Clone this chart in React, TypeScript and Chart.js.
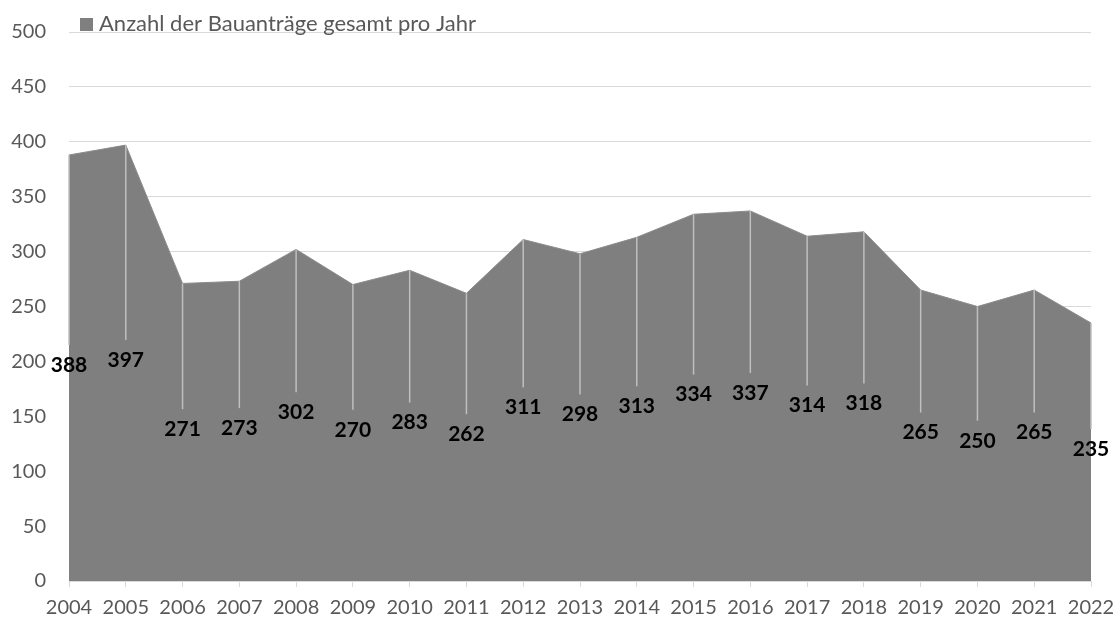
import React, { useEffect, useRef } from "react";
import { Chart, registerables } from "chart.js";

Chart.register(...registerables);

const years = ["2004","2005","2006","2007","2008","2009","2010","2011","2012","2013","2014","2015","2016","2017","2018","2019","2020","2021","2022"];
const applications = [388,397,271,273,302,270,283,262,311,298,313,334,337,314,318,265,250,265,235];
const seriesLabel = "Anzahl der Bauanträge gesamt pro Jahr";
const yMin = 0;
const yMax = 500;
const yStep = 50;

const FONT = "Lato, 'DejaVu Sans', sans-serif";

export default function App() {
  const ref = useRef<HTMLCanvasElement | null>(null);

  useEffect(() => {
    let chart: Chart | null = null;
    let cancelled = false;

    const labelsPlugin = {
      id: "areaLabels",
      afterDatasetsDraw(c: any) {
        const ctx = c.ctx;
        const meta = c.getDatasetMeta(0);
        const ys = c.scales.y;
        ctx.save();
        meta.data.forEach((pt: any, i: number) => {
          const v = applications[i];
          const lx = pt.x;
          const ly = ys.getPixelForValue(v / 2) - 3;
          const lineEnd = ly - 20;
          if (lineEnd > pt.y) {
            ctx.strokeStyle = "#bfbfbf";
            ctx.lineWidth = 1.5;
            ctx.beginPath();
            ctx.moveTo(lx, pt.y);
            ctx.lineTo(lx, lineEnd);
            ctx.stroke();
          }
          ctx.fillStyle = "#000000";
          ctx.font = `bold 21px ${FONT}`;
          ctx.textAlign = "center";
          ctx.textBaseline = "middle";
          ctx.fillText(String(v), lx, ly);
        });
        ctx.restore();
      },
      afterDraw(c: any) {
        const ctx = c.ctx;
        ctx.save();
        ctx.fillStyle = "#7f7f7f";
        ctx.fillRect(80, 18, 13, 13);
        ctx.fillStyle = "#595959";
        ctx.font = `22px ${FONT}`;
        ctx.textAlign = "left";
        ctx.textBaseline = "middle";
        ctx.fillText(seriesLabel, 99, 24);
        ctx.restore();
      },
    };

    const build = () => {
      if (cancelled || !ref.current) return;
      chart = new Chart(ref.current, {
        type: "line",
        data: {
          labels: years,
          datasets: [
            {
              label: seriesLabel,
              data: applications,
              fill: "origin",
              backgroundColor: "#7f7f7f",
              borderColor: "#8c8c8c",
              borderWidth: 1,
              pointRadius: 0,
              tension: 0,
            },
          ],
        },
        options: {
          animation: false,
          responsive: false,
          layout: { padding: { top: 32, right: 25, left: 0, bottom: 0 } },
          plugins: {
            legend: { display: false },
            tooltip: { enabled: false },
          },
          scales: {
            x: {
              type: "category",
              offset: false,
              afterFit(scale: any) {
                scale.height = 43;
                scale.paddingLeft = 0;
                scale.paddingRight = 0;
              },
              grid: {
                drawOnChartArea: false,
                drawTicks: true,
                tickLength: 6,
                color: "#d9d9d9",
              },
              border: { display: true, color: "#d9d9d9", width: 1 },
              ticks: {
                color: "#595959",
                font: { family: FONT, size: 20 },
                padding: 9,
                maxRotation: 0,
                autoSkip: false,
              },
            },
            y: {
              min: yMin,
              max: yMax,
              afterFit(scale: any) {
                scale.width = 69;
                scale.paddingTop = 0;
                scale.paddingBottom = 0;
              },
              grid: {
                color: "#d9d9d9",
                lineWidth: 1,
                drawTicks: false,
              },
              border: { display: false },
              ticks: {
                stepSize: yStep,
                color: "#595959",
                font: { family: FONT, size: 20 },
                padding: 23,
              },
            },
          },
        },
        plugins: [labelsPlugin],
      });
    };

    const fontsApi = (document as any).fonts;
    if (fontsApi && fontsApi.load) {
      Promise.all([
        fontsApi.load(`20px Lato`),
        fontsApi.load(`bold 21px Lato`),
      ])
        .catch(() => {})
        .then(build);
    } else {
      build();
    }

    return () => {
      cancelled = true;
      if (chart) chart.destroy();
    };
  }, []);

  return (
    <div style={{ position: "absolute", left: 0, top: 0, width: 1116, height: 624, background: "#ffffff" }}>
      <canvas ref={ref} width={1116} height={624} style={{ display: "block", width: 1116, height: 624 }} />
    </div>
  );
}
